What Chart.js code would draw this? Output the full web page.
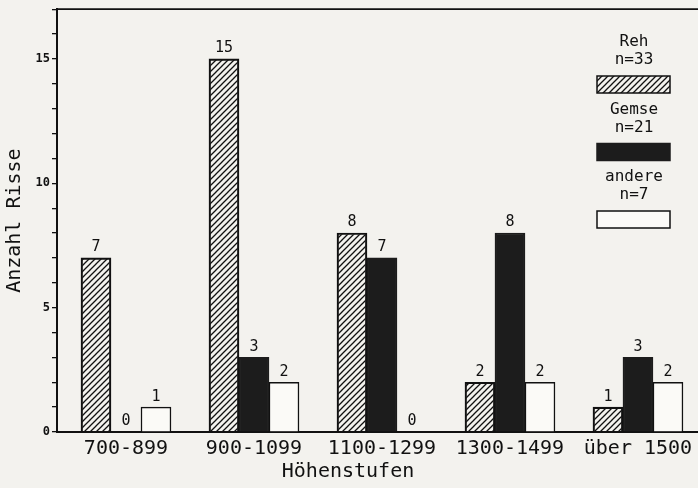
<!DOCTYPE html>
<html>
<head>
<meta charset="utf-8">
<script src="https://cdn.jsdelivr.net/npm/chart.js@4.4.0/dist/chart.umd.min.js"></script>
<style>
  html, body { margin: 0; padding: 0; background: #f3f2ee; overflow: hidden; }
  #wrap { width: 698px; height: 488px; position: relative; }
</style>
</head>
<body>
<div id="wrap"><canvas id="grafica"></canvas></div>
<script>
// === Daten ===
const hoehenstufen = ["700-899", "900-1099", "1100-1299", "1300-1499", "über 1500"];
const reh = [7, 15, 8, 2, 1];
const gemse = [0, 3, 7, 8, 3];
const andere = [1, 2, 0, 2, 2];
const serien = ["Reh", "Gemse", "andere"];
const yTicks = [0, 5, 10, 15];

const FONT = "'DejaVu Sans Mono', monospace";
Chart.defaults.font.family = FONT;
Chart.defaults.color = "#111";

// Schraffur fuer "Reh"
function schraffur() {
  const c = document.createElement("canvas");
  c.width = 6; c.height = 6;
  const g = c.getContext("2d");
  g.strokeStyle = "#111";
  g.lineWidth = 1.3;
  g.beginPath();
  g.moveTo(-1, 7); g.lineTo(7, -1);
  g.moveTo(-4, 4); g.lineTo(4, -4);
  g.moveTo(2, 10); g.lineTo(10, 2);
  g.stroke();
  return g.createPattern(c, "repeat");
}
const hatch = schraffur();

const punkte = arr => arr.map((v, i) => ({ x: i + 1, y: v }));
const summe = arr => arr.reduce((a, b) => a + b, 0);

const stile = [
  { backgroundColor: hatch, borderColor: "#111" },
  { backgroundColor: "#1c1c1c", borderColor: "#1c1c1c" },
  { backgroundColor: "#fbfaf7", borderColor: "#111" }
];

const datasets = [reh, gemse, andere].map((werte, i) => ({
  label: serien[i],
  data: punkte(werte),
  backgroundColor: stile[i].backgroundColor,
  borderColor: stile[i].borderColor,
  borderWidth: 1.5,
  barThickness: 30
}));

// Werte ueber den Balken
const wertePlugin = {
  id: "werte",
  afterDatasetsDraw(chart) {
    const ctx = chart.ctx;
    ctx.save();
    ctx.font = "15px " + FONT;
    ctx.fillStyle = "#111";
    ctx.textAlign = "center";
    ctx.textBaseline = "bottom";
    chart.data.datasets.forEach((ds, i) => {
      chart.getDatasetMeta(i).data.forEach((bar, j) => {
        ctx.fillText(ds.data[j].y, bar.x, bar.y - 3);
      });
    });
    ctx.restore();
  }
};

// Rahmen oben, x-Titel und Legende
const rahmenPlugin = {
  id: "rahmen",
  afterDraw(chart) {
    const ctx = chart.ctx;
    const a = chart.chartArea;
    ctx.save();
    ctx.strokeStyle = "#111";
    ctx.lineWidth = 1.8;
    ctx.beginPath();
    ctx.moveTo(a.left, a.top);
    ctx.lineTo(chart.width, a.top);
    ctx.stroke();

    ctx.fillStyle = "#111";
    ctx.textAlign = "center";
    ctx.textBaseline = "middle";
    ctx.font = "20px " + FONT;
    ctx.fillText("Höhenstufen", 348, 472);

    // Legende
    const cx = 634;
    ctx.font = "16px " + FONT;
    chart.data.datasets.forEach((ds, i) => {
      const y0 = 42 + i * 67.5;
      ctx.fillStyle = "#111";
      ctx.fillText(ds.label, cx, y0);
      ctx.fillText("n=" + summe(ds.data.map(p => p.y)), cx, y0 + 18);
      const bx = 597, by = y0 + 34, bw = 73, bh = 17;
      ctx.fillStyle = ds.backgroundColor;
      ctx.fillRect(bx, by, bw, bh);
      ctx.lineWidth = 1.5;
      ctx.strokeStyle = ds.borderColor;
      ctx.strokeRect(bx, by, bw, bh);
    });
    ctx.restore();
  }
};

new Chart(document.getElementById("grafica"), {
  type: "bar",
  data: { datasets },
  options: {
    responsive: true,
    maintainAspectRatio: false,
    animation: false,
    layout: { padding: { top: 6, right: 0, left: 0, bottom: 0 } },
    plugins: {
      legend: { display: false },
      tooltip: { enabled: false }
    },
    scales: {
      x: {
        type: "linear",
        offset: false,
        min: 0.461,
        max: 5.469,
        afterFit: s => { s.height = 56; },
        afterBuildTicks: s => { s.ticks = hoehenstufen.map((_, i) => ({ value: i + 1 })); },
        grid: { display: false, offset: false },
        border: { color: "#111", width: 2 },
        ticks: {
          autoSkip: false,
          maxRotation: 0,
          padding: -3,
          color: "#111",
          font: { size: 20 },
          callback: v => hoehenstufen[v - 1]
        }
      },
      y: {
        min: 0,
        max: 17,
        afterFit: s => { s.width = 57; },
        border: { color: "#111", width: 2 },
        grid: {
          drawOnChartArea: false,
          drawTicks: true,
          tickLength: 5,
          color: "#111",
          lineWidth: 1.3
        },
        title: {
          display: true,
          text: "Anzahl Risse",
          color: "#111",
          font: { size: 20 },
          padding: { top: 3, bottom: 0 }
        },
        ticks: {
          stepSize: 1,
          padding: 2,
          color: "#111",
          font: { size: 12, weight: "bold" },
          callback: v => (yTicks.includes(v) ? v : "")
        }
      }
    }
  },
  plugins: [wertePlugin, rahmenPlugin]
});
</script>
</body>
</html>
